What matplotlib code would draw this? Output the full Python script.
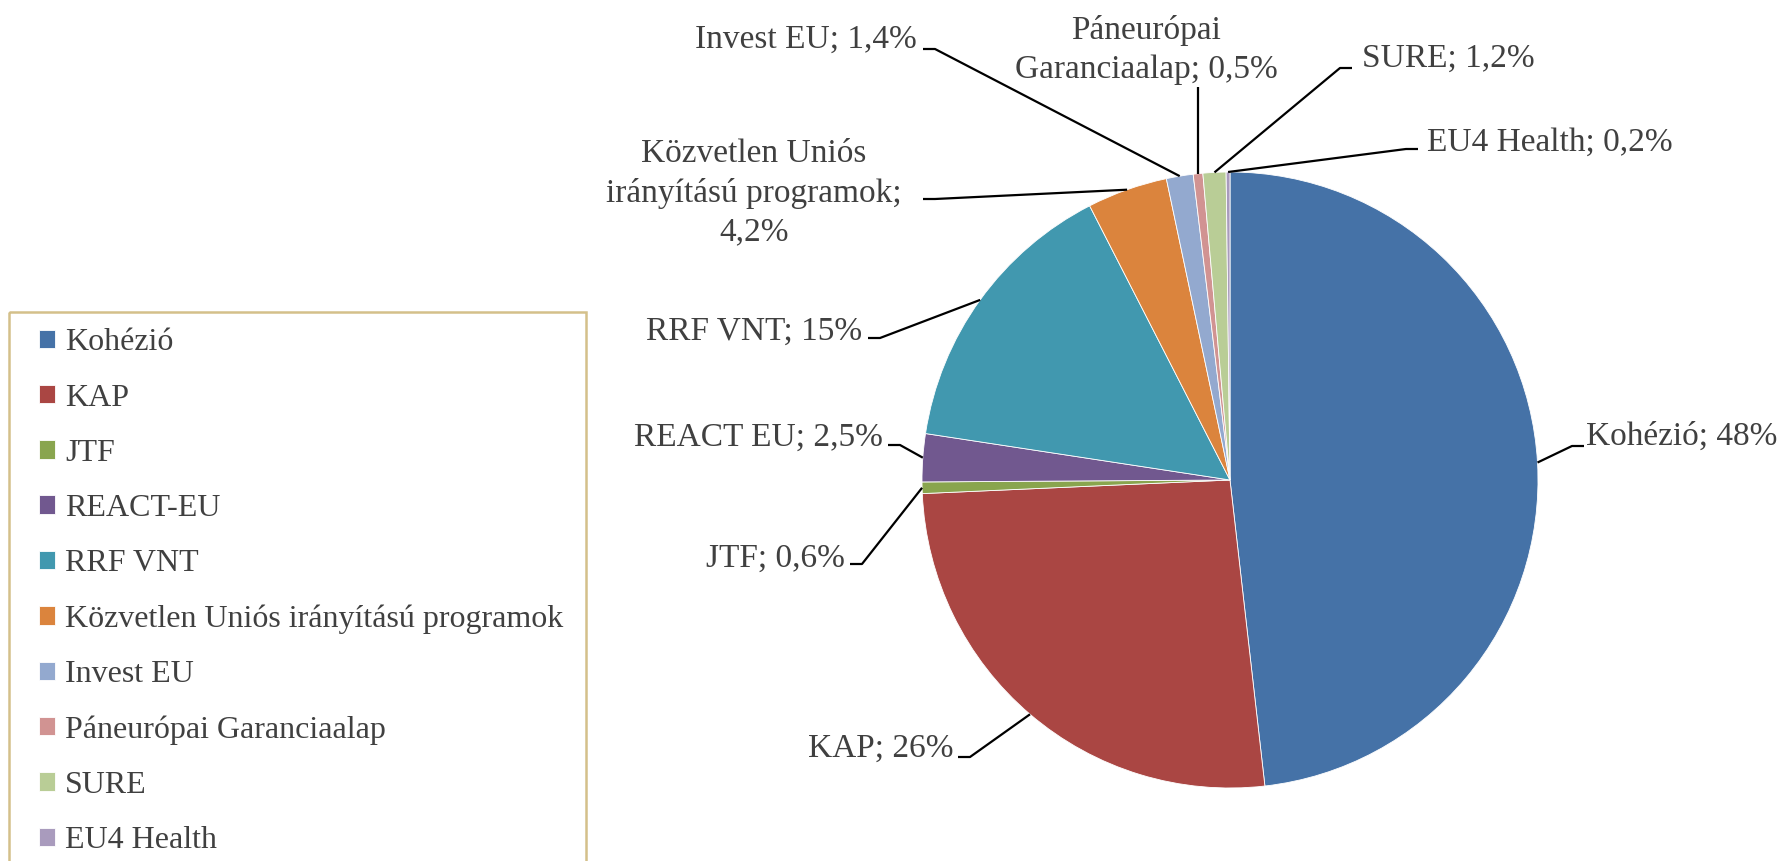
import numpy as np
import matplotlib.pyplot as plt
from matplotlib.patches import Rectangle

# Data
categories = ["Kohézió", "KAP", "JTF", "REACT-EU", "RRF VNT",
              "Közvetlen Uniós irányítású programok", "Invest EU",
              "Páneurópai Garanciaalap", "SURE", "EU4 Health"]
label_names = ["Kohézió", "KAP", "JTF", "REACT EU", "RRF VNT",
               "Közvetlen Uniós\nirányítású programok;", "Invest EU",
               "Páneurópai\nGaranciaalap", "SURE", "EU4 Health"]
shares = [48, 26, 0.6, 2.5, 15, 4.2, 1.4, 0.5, 1.2, 0.2]
colors = ["#4572A7", "#AA4643", "#89A54E", "#71588F", "#4198AF",
          "#DB843D", "#93A9CF", "#D19392", "#B9CD96", "#A99BBD"]

W, H = 1779, 861
fig = plt.figure(figsize=(W / 100, H / 100), dpi=100)
ax = fig.add_axes([0, 0, 1, 1])

font = "Liberation Serif"
txt_col = "#404040"
cx, cy, R = 1230, 480, 308

# pie drawn clockwise from 12 o'clock (y axis is flipped, so counterclock=True)
wedges, _ = ax.pie(shares, colors=colors, startangle=-90, counterclock=True,
                   center=(cx, cy), radius=R, frame=True,
                   wedgeprops=dict(edgecolor='white', linewidth=0.6))
ax.set_xlim(0, W)
ax.set_ylim(H, 0)          # pixel coords, origin top-left
ax.set_aspect('equal')
ax.axis('off')

# label layout: text anchor, alignment, hook point where the leader starts, tail direction
layout = [
    (1586, 437, 'left', (1584, 446), -1),
    (953, 749, 'right', (958, 757), 1),
    (845, 559, 'right', (850, 564), 1),
    (883, 438, 'right', (888, 445), 1),
    (862, 332, 'right', (868, 338), 1),
    (754, 193, 'center', (923, 199), 1),
    (917, 40, 'right', (923, 49), 1),
    (1146, 50, 'center', (None, 87), 0),
    (1362, 59, 'left', (1352, 68), -1),
    (1427, 143, 'left', (1418, 149), -1),
]

for w, name, v, (tx, ty, ha, hook, d) in zip(wedges, label_names, shares, layout):
    pct = f"{v:g}".replace('.', ',') + '%'
    if name.startswith("Közvetlen"):
        text = f"{name}\n{pct}"
    else:
        text = f"{name}; {pct}"
    ax.text(tx, ty, text, ha=ha, va='center', fontsize=24, family=font,
            color=txt_col, multialignment='center', linespacing=1.35)
    mid = np.deg2rad((w.theta1 + w.theta2) / 2)
    ex, ey = cx + R * np.cos(mid), cy + R * np.sin(mid)
    hx, hy = hook
    if hx is None:
        hx = ex
    pts = [(hx, hy)]
    if d != 0:
        pts.append((hx + 12 * d, hy))
    pts.append((ex, ey))
    xs, ys = zip(*pts)
    ax.plot(xs, ys, color='black', lw=1.6, solid_capstyle='butt')

# legend with a tan box that runs off the bottom
ax.add_patch(Rectangle((9, 312), 577, 600, fill=False, edgecolor='#D4C08A',
                       lw=1.8, clip_on=False))
leg = fig.legend(wedges, categories, loc='upper left',
                 bbox_to_anchor=(17 / W, 1 - 306 / H), frameon=False,
                 prop={'family': font, 'size': 23}, labelcolor=txt_col,
                 handlelength=0.5, handleheight=0.5, handletextpad=0.3,
                 labelspacing=0.82, borderpad=0.2)

fig.savefig("out.png", dpi=100)
